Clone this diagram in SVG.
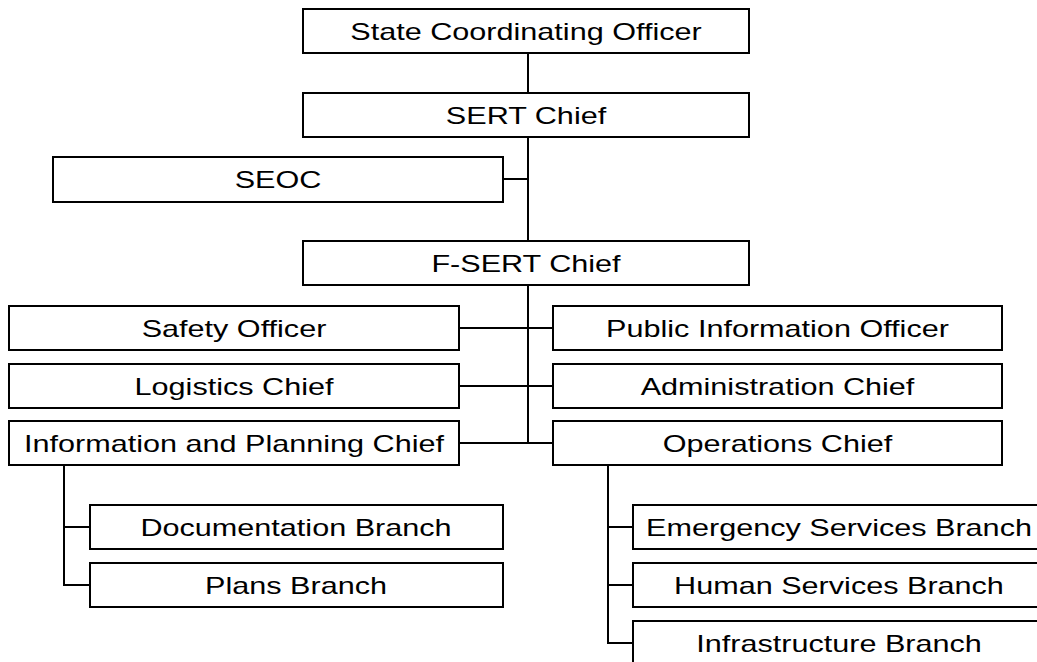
<svg xmlns="http://www.w3.org/2000/svg" width="1037" height="662" viewBox="0 0 1037 662">
<style>
rect{fill:#fff;stroke:#000;stroke-width:2}
text{font-family:"Liberation Sans",Arial,sans-serif;font-size:24px;fill:#000;text-anchor:middle}
#connectors line{stroke:#000;stroke-width:2}
</style>
<rect x="0" y="0" width="1037" height="662" style="stroke:none"/>
<g id="connectors">
<line x1="528" y1="53" x2="528" y2="93"/>
<line x1="528" y1="137" x2="528" y2="241"/>
<line x1="503" y1="179" x2="528" y2="179"/>
<line x1="528" y1="285" x2="528" y2="443"/>
<line x1="459" y1="328" x2="553" y2="328"/>
<line x1="459" y1="386" x2="553" y2="386"/>
<line x1="459" y1="443" x2="553" y2="443"/>
<line x1="64" y1="465" x2="64" y2="585"/>
<line x1="63" y1="527" x2="90" y2="527"/>
<line x1="63" y1="585" x2="90" y2="585"/>
<line x1="608" y1="465" x2="608" y2="643"/>
<line x1="607" y1="527" x2="633" y2="527"/>
<line x1="607" y1="585" x2="633" y2="585"/>
<line x1="607" y1="643" x2="633" y2="643"/>
</g>
<g id="state-coordinating-officer"><rect x="303" y="9" width="446" height="44"/><text transform="translate(526,39.5) scale(1.275,1)">State Coordinating Officer</text></g>
<g id="sert-chief"><rect x="303" y="93" width="446" height="44"/><text transform="translate(526,123.5) scale(1.275,1)">SERT Chief</text></g>
<g id="seoc"><rect x="53" y="157" width="450" height="45"/><text transform="translate(278,188) scale(1.275,1)">SEOC</text></g>
<g id="f-sert-chief"><rect x="303" y="241" width="446" height="44"/><text transform="translate(526,271.5) scale(1.275,1)">F-SERT Chief</text></g>
<g id="safety-officer"><rect x="9" y="306" width="450" height="44"/><text transform="translate(234,336.5) scale(1.275,1)">Safety Officer</text></g>
<g id="logistics-chief"><rect x="9" y="364" width="450" height="44"/><text transform="translate(234,394.5) scale(1.275,1)">Logistics Chief</text></g>
<g id="information-planning-chief"><rect x="9" y="421" width="450" height="44"/><text transform="translate(234,451.5) scale(1.275,1)">Information and Planning Chief</text></g>
<g id="public-information-officer"><rect x="553" y="306" width="449" height="44"/><text transform="translate(777.5,336.5) scale(1.275,1)">Public Information Officer</text></g>
<g id="administration-chief"><rect x="553" y="364" width="449" height="44"/><text transform="translate(777.5,394.5) scale(1.275,1)">Administration Chief</text></g>
<g id="operations-chief"><rect x="553" y="421" width="449" height="44"/><text transform="translate(777.5,451.5) scale(1.275,1)">Operations Chief</text></g>
<g id="documentation-branch"><rect x="90" y="505" width="413" height="44"/><text transform="translate(296,535.5) scale(1.275,1)">Documentation Branch</text></g>
<g id="plans-branch"><rect x="90" y="563" width="413" height="44"/><text transform="translate(296,593.5) scale(1.275,1)">Plans Branch</text></g>
<g id="emergency-services-branch"><rect x="633" y="505" width="412" height="44"/><text transform="translate(839,535.5) scale(1.275,1)">Emergency Services Branch</text></g>
<g id="human-services-branch"><rect x="633" y="563" width="412" height="44"/><text transform="translate(839,593.5) scale(1.275,1)">Human Services Branch</text></g>
<g id="infrastructure-branch"><rect x="633" y="621" width="412" height="46"/><text transform="translate(839,651.5) scale(1.275,1)">Infrastructure Branch</text></g>
</svg>
